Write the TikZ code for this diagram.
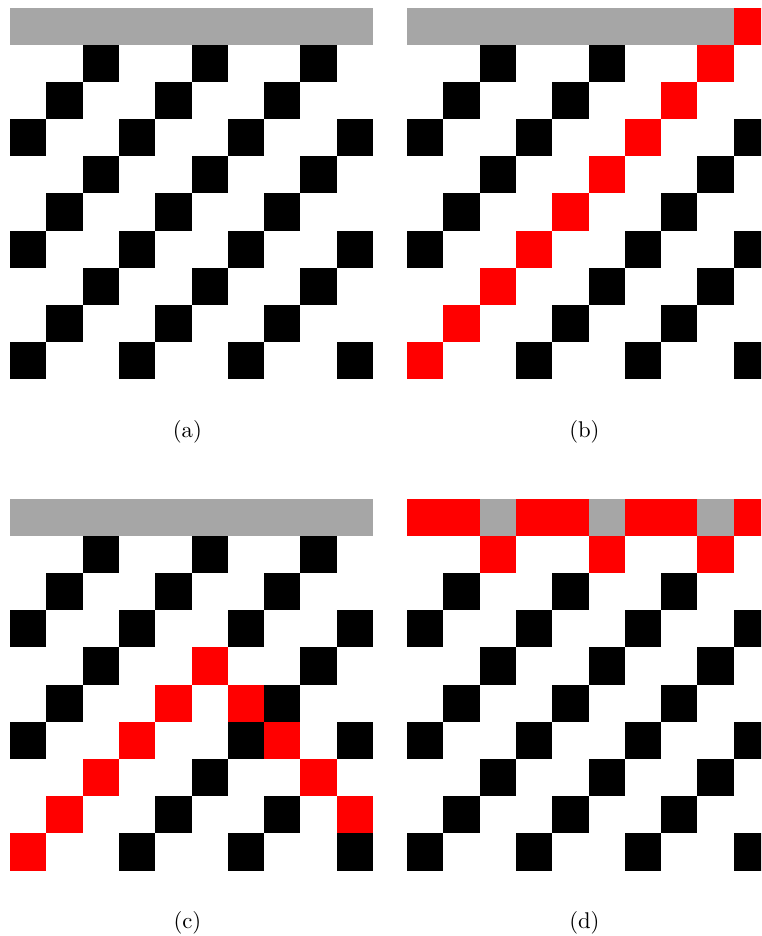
\documentclass[tikz,border=0pt]{standalone}
\definecolor{bargray}{RGB}{166,166,166}
\definecolor{hired}{RGB}{255,0,0}
\newcommand\mycell[5]{\fill[#5] ({#1+36.3*(#3)},{#2+36.7+37.2*((#4)-1)}) rectangle ++(36.3,37.2);}
\newcommand\mytop[4]{\fill[#4] ({#1+36.3*(#3)},{#2}) rectangle ++(36.3,36.7);}
\newcommand\mypattern[2]{%
  \foreach \r in {1,...,9}{\foreach \c in {0,...,9}{%
    \pgfmathtruncatemacro\m{mod(\c+\r,3)}%
    \ifnum\m=0 \mycell{#1}{#2}{\c}{\r}{black}\fi}}}
\tikzset{caption/.style={inner sep=0pt,font=\normalsize}}
\begin{document}
\begin{tikzpicture}[x=0.44pt,y=-0.44pt]
\useasboundingbox (0,0) rectangle (761,936);
\clip (0,0) rectangle (761,936);
% (a)
\fill[bargray] (10,8) rectangle ++(363,36.7);
\mypattern{10}{8}
\node[caption] (capa) at (187.4,432) {(a)};
% (b)
\fill[bargray] (407,8) rectangle ++(326.7,36.7);
\mypattern{407}{8}
\mytop{407}{8}{9}{hired}
\foreach \r in {1,...,9}{\pgfmathtruncatemacro\cc{9-\r}\mycell{407}{8}{\cc}{\r}{hired}}
\node[caption] (capb) at (584.4,432) {(b)};
% (c)
\fill[bargray] (10,499) rectangle ++(363,36.7);
\mypattern{10}{499}
\foreach \r/\c in {4/5,5/4,6/3,7/2,8/1,9/0,5/6,6/7,7/8,8/9}{\mycell{10}{499}{\c}{\r}{hired}}
\node[caption] (capc) at (187.4,923) {(c)};
% (d)
\fill[hired] (407,499) rectangle ++(363,36.7);
\mypattern{407}{499}
\foreach \c in {2,5,8}{\mytop{407}{499}{\c}{bargray}\mycell{407}{499}{\c}{1}{hired}}
\node[caption] (capd) at (584.4,923) {(d)};
\end{tikzpicture}
\end{document}
